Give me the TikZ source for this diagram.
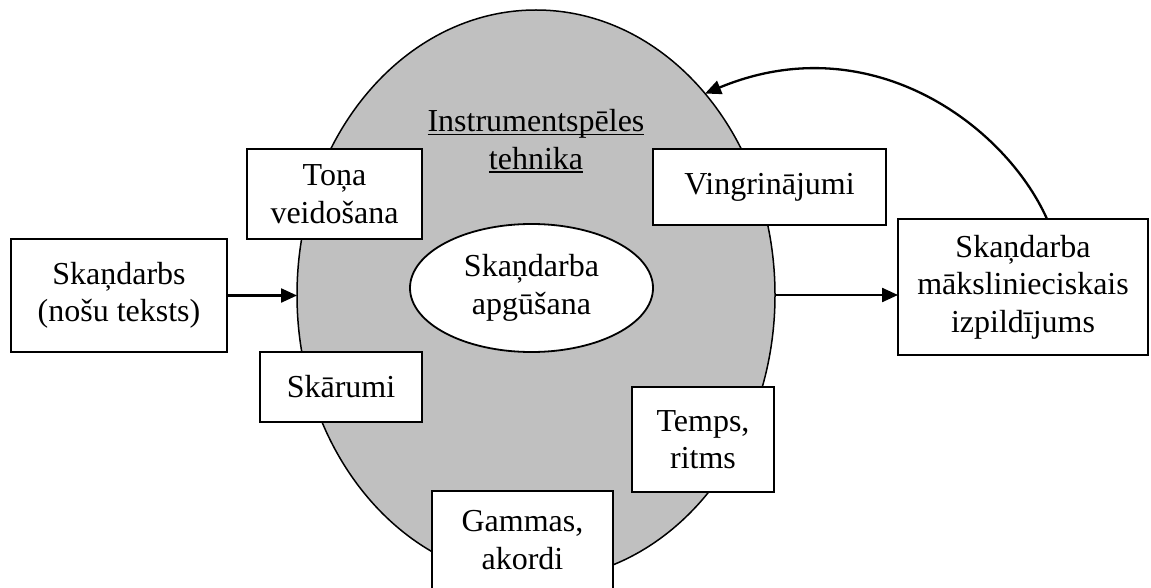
\documentclass[tikz,border=0pt]{standalone}
\usepackage{fontspec}
\setmainfont{Liberation Serif}
\usetikzlibrary{shapes.geometric,arrows.meta}
\definecolor{techgray}{RGB}{192,192,192}
% underline drawn close to the baseline, crossing descenders
\newcommand\undl[1]{\setbox0\hbox{#1}\rlap{\rule[-3.5pt]{\wd0}{1.6pt}}\box0}

\begin{document}
\begin{tikzpicture}[x=1pt,y=-1pt,
  every node/.style={font=\fontsize{32}{37.5}\selectfont},
  box/.style={draw, line width=1.9pt, fill=white, align=center, inner sep=0pt, outer sep=0pt},
  oval/.style={ellipse, draw, inner sep=0pt, outer sep=0pt, align=center},
  flow/.style={line width=2.3pt, -{Triangle[length=16pt,width=14pt]}},
]
\useasboundingbox (0,0) rectangle (1151,588);

% technique area and the central learning stage
\node[oval, line width=1.5pt, fill=techgray, minimum width=478pt, minimum height=570pt] (tech) at (536,295) {};
\node[oval, line width=1.8pt, fill=white, minimum width=243pt, minimum height=128pt] (learn) at (531.5,288) {Skaņdarba\\apgūšana};
\node[align=center] (techlabel) at (536,141) {\undl{Instrumentspēles}\\\undl{tehnika}};

% technique components
\node[box, minimum width=175pt, minimum height=90pt] (tone) at (334.5,194) {Toņa\\veidošana};
\node[box, minimum width=233pt, minimum height=76pt] (exer) at (769.5,187) {Vingrinājumi};
\node[box, minimum width=162pt, minimum height=70pt] (touch) at (341,387) {Skārumi};
\node[box, minimum width=142pt, minimum height=105pt] (tempo) at (703,439.5) {Temps,\\ritms};
\node[box, minimum width=181pt, minimum height=98pt] (scales) at (522.5,540) {Gammas,\\akordi};

% input and result
\node[box, minimum width=216pt, minimum height=113pt] (score) at (119,295.5) {Skaņdarbs\\(nošu teksts)};
\node[box, minimum width=250pt, minimum height=136pt] (perf) at (1023,287) {Skaņdarba\\mākslinieciskais\\izpildījums};

% connectors
\draw[flow] (score.east) -- (score.east -| tech.west);
\draw[flow] (tech.east) -- (tech.east -| perf.west);
\coordinate (loopstart) at ([xshift=24pt]perf.north);
\draw[flow] (loopstart) .. controls (1005,125) and (870,25) .. (tech.50);
\end{tikzpicture}
\end{document}
